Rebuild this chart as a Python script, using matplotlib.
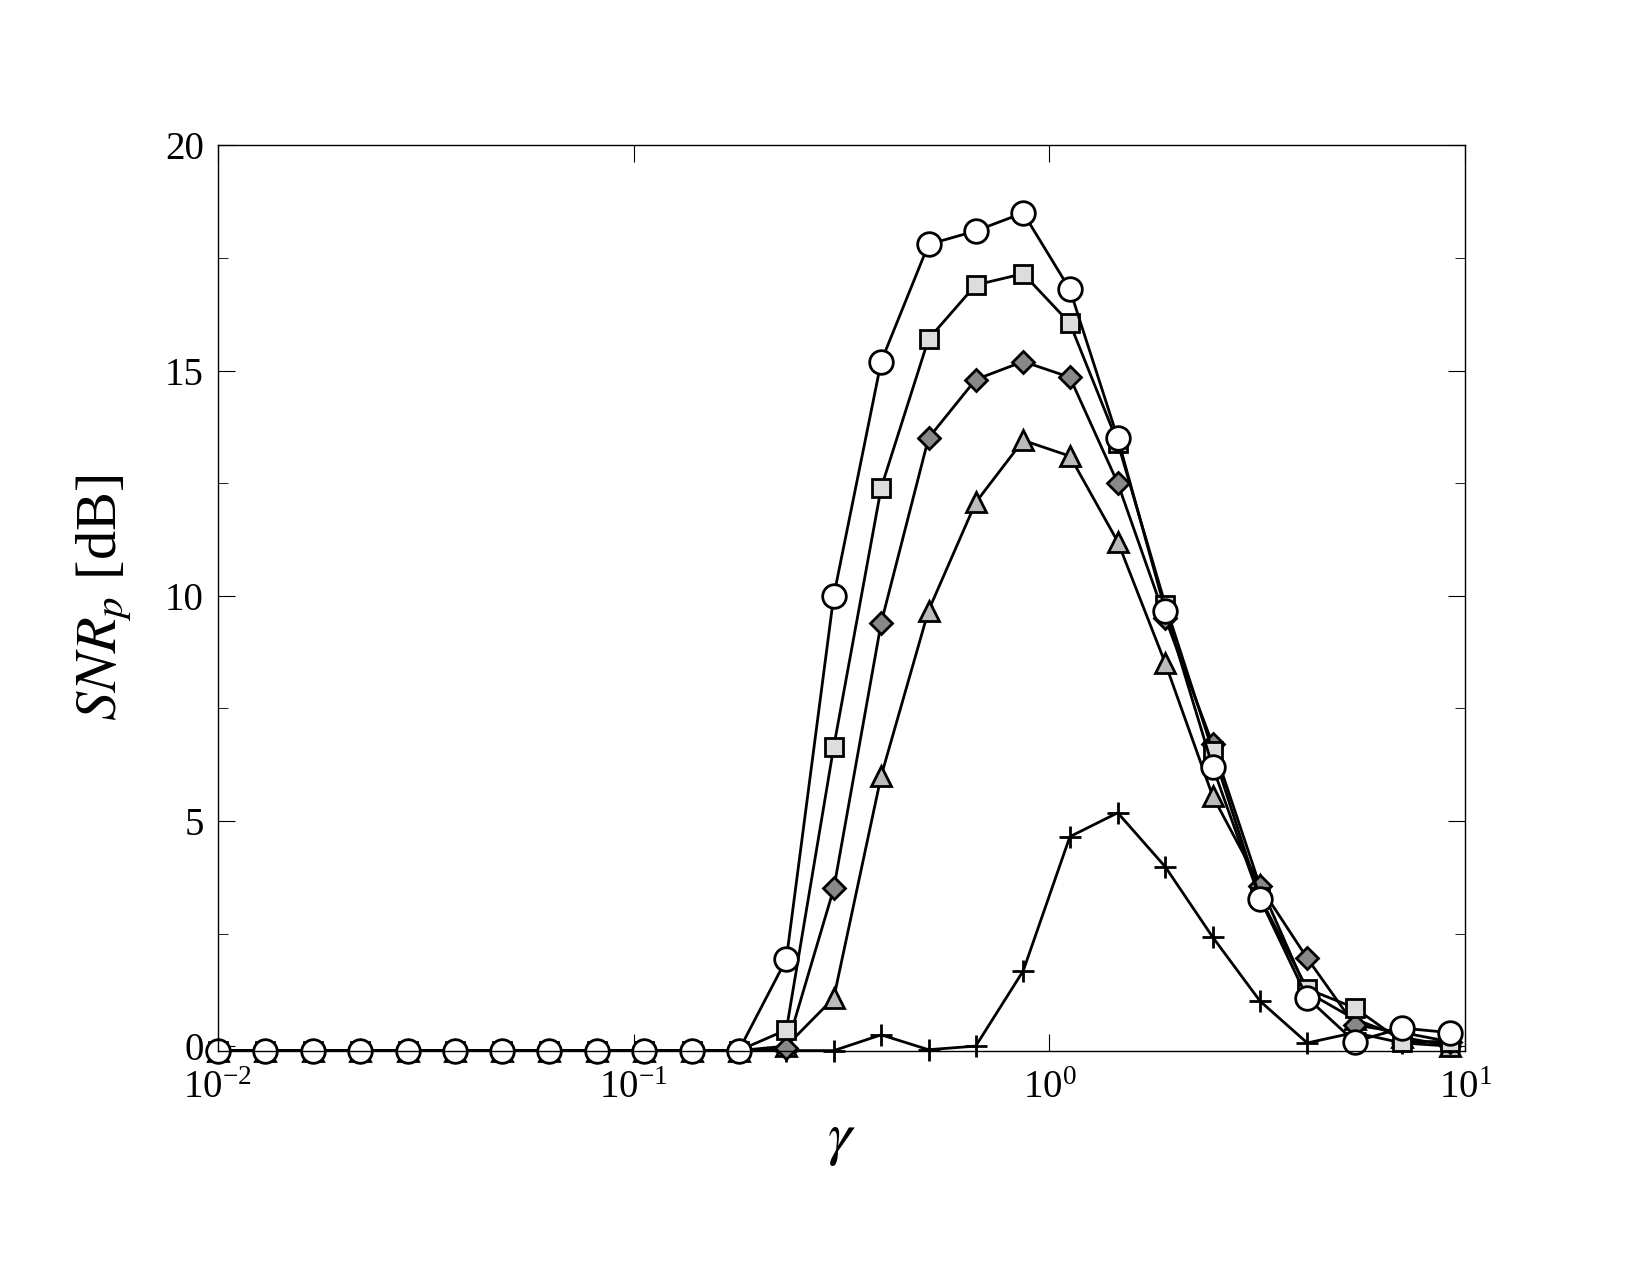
import matplotlib
matplotlib.use("Agg")
import matplotlib.pyplot as plt

plt.rcParams['font.family'] = ['Liberation Serif', 'DejaVu Serif']
plt.rcParams['mathtext.fontset'] = 'stix'

gamma = [0.01, 0.013, 0.0169, 0.022, 0.0286, 0.0371, 0.0483, 0.0627, 0.0816, 0.106,
         0.138, 0.179, 0.233, 0.303, 0.394, 0.512, 0.665, 0.865, 1.12, 1.46,
         1.9, 2.47, 3.21, 4.17, 5.42, 7.05, 9.17]
pre = [-0.1]*12
circle = pre + [1.93, 10.0, 15.2, 17.8, 18.1, 18.5, 16.8, 13.5, 9.67, 6.2, 3.27, 1.07, 0.1, 0.4, 0.3]
square = pre + [0.36, 6.65, 12.4, 15.7, 16.9, 17.15, 16.05, 13.4, 9.8, 6.55, 3.3, 1.27, 0.85, 0.1, 0.1]
diamond = pre + [-0.05, 3.5, 9.4, 13.5, 14.8, 15.2, 14.85, 12.5, 9.5, 6.7, 3.55, 1.95, 0.47, 0.3, 0.1]
triangle = pre + [0.0, 1.07, 6.0, 9.67, 12.07, 13.45, 13.1, 11.2, 8.5, 5.55, 3.58, 1.2, 0.6, 0.2, 0.0]
plus = pre + [-0.1, -0.1, 0.25, -0.08, 0.0, 1.67, 4.65, 5.18, 3.98, 2.42, 1.0, 0.07, 0.3, 0.07, 0.0]

fig = plt.figure(figsize=(16.5, 12.75), dpi=100)
ax = fig.add_axes([0.132, 0.176, 0.756, 0.710])

kw = dict(color='black', lw=2, markeredgecolor='black', markeredgewidth=2, clip_on=False)
ax.plot(gamma, plus, marker='+', markersize=16, **kw)
ax.plot(gamma, triangle, marker='^', markersize=14, markerfacecolor='#bbbbbb', **kw)
ax.plot(gamma, diamond, marker='D', markersize=11, markerfacecolor='#888888', **kw)
ax.plot(gamma, square, marker='s', markersize=13, markerfacecolor='#dddddd', **kw)
ax.plot(gamma, circle, marker='o', markersize=17, markerfacecolor='white', **kw)

ax.set_xscale('log')
ax.set_xlim(0.01, 10)
ax.set_ylim(-0.1, 20)
ax.set_yticks([0, 5, 10, 15, 20])
ax.set_yticks([2.5, 7.5, 12.5, 17.5], minor=True)
ax.xaxis.set_minor_locator(matplotlib.ticker.NullLocator())
ax.tick_params(which='both', direction='in', top=True, right=True, labelsize=28)
ax.tick_params(which='major', length=12)
ax.tick_params(which='minor', length=7)
ax.tick_params(axis='x', pad=14)
ax.tick_params(axis='y', pad=10)
for s in ax.spines.values():
    s.set_linewidth(1)
ax.set_xlabel(r'$\gamma$', fontsize=44, labelpad=4)
ax.set_ylabel(r'$SNR_p$ [dB]', fontsize=42, labelpad=22)
fig.savefig('out.png', dpi=100)
